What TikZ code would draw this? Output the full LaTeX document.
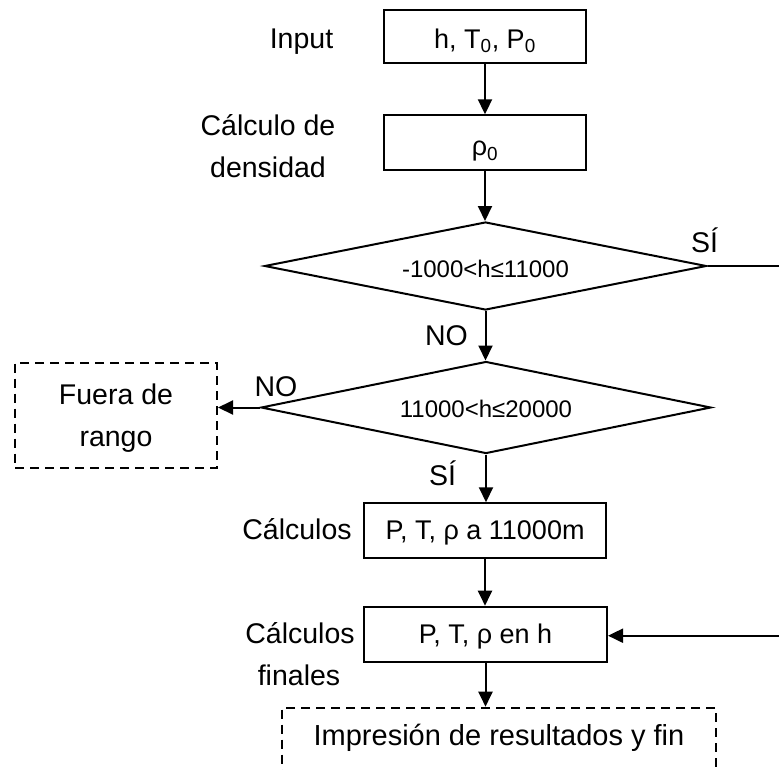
\documentclass[tikz,border=0pt]{standalone}
\usepackage{fontspec}
\setmainfont{Liberation Sans}
\usetikzlibrary{arrows.meta,shapes.geometric}
\newcommand{\lblfont}{\fontsize{28.5}{33}\selectfont}
\newcommand{\boxfont}{\fontsize{27}{32}\selectfont}
\newcommand{\decfont}{\fontsize{24}{29}\selectfont}
\begin{document}
\begin{tikzpicture}[x=1pt,y=-1pt,
  flow/.style={line width=2pt,-{Triangle[width=14pt,length=15pt]}},
  plain/.style={line width=2pt},
  stepbox/.style={draw,line width=2pt,inner sep=0pt,font=\boxfont,text depth=0pt},
  dashbox/.style={stepbox,dash pattern=on 9pt off 6pt},
  decision/.style={diamond,aspect=5,draw,line width=2pt,inner sep=0pt,font=\decfont,text depth=0pt},
  lbl/.style={anchor=base,inner sep=0pt,font=\lblfont}]
\clip (0,0) rectangle (779,769);

% process boxes along the main column
\node[stepbox,minimum width=202pt,minimum height=53pt,text height=23pt] (in) at (485,36.5) {h, T\textsubscript{0}, P\textsubscript{0}};
\node[stepbox,minimum width=202pt,minimum height=55pt,text height=26pt] (rho) at (485,142.8) {ρ\textsubscript{0}};
\node[decision,minimum width=442pt,minimum height=88pt,text height=23pt] (d1) at (485.5,266) {-1000<h≤11000};
\node[decision,minimum width=450pt,minimum height=92pt,text height=19.6pt] (d2) at (486,407.5) {11000<h≤20000};
\node[stepbox,minimum width=242pt,minimum height=54.5pt,text height=17pt] (c1) at (485,530.5) {P, T, ρ a 11000m};
\node[stepbox,minimum width=243pt,minimum height=55pt,text height=18pt] (c2) at (485.5,634.2) {P, T, ρ en h};

% terminal boxes
\node[dashbox,font=\lblfont,align=center,minimum width=202pt,minimum height=105pt] (out) at (116,415) {Fuera de\\[9pt]rango};
\node[dashbox,minimum width=434pt,minimum height=90pt,anchor=north] (fin) at (499,706.7) {};
\node[lbl,font=\fontsize{29}{34}\selectfont] (fintxt) at (499,745) {Impresión de resultados y fin};

% side labels
\node[lbl] (l1) at (301.5,48) {Input};
\node[lbl] (l2a) at (268,135) {Cálculo de};
\node[lbl] (l2b) at (268,177) {densidad};
\node[lbl] (l3) at (297,539.5) {Cálculos};
\node[lbl] (l4a) at (300,643) {Cálculos};
\node[lbl] (l4b) at (299,685) {finales};

% branch labels
\node[lbl] (y1) at (704.5,252.5) {SÍ};
\node[lbl] (n1) at (446.5,345) {NO};
\node[lbl] (n2) at (276,396.7) {NO};
\node[lbl] (y2) at (442.5,485) {SÍ};

% free ends of the return path on the right
\coordinate (r1) at (779,266);
\coordinate (r2) at (779,635.7);

% connectors
\draw[flow] (in.south) -- (in.south |- rho.north);
\draw[flow] (rho.south) -- (rho.south |- d1.north);
\draw[flow] (d1.south) -- (d1.south |- d2.north);
\draw[plain] (d1.east) -- (r1);
\draw[flow] (d2.west) -- (d2.west -| out.east);
\draw[flow] (d2.south) -- (d2.south |- c1.north);
\draw[flow] (c1.south) -- (c1.south |- c2.north);
\draw[flow] (r2) -- (r2 -| c2.east);
\draw[flow] (c2.south) -- (c2.south |- fin.north);
\end{tikzpicture}
\end{document}
